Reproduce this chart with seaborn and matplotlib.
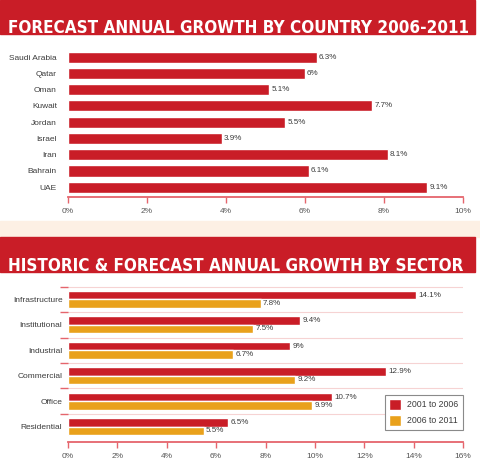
import pandas as pd
import matplotlib
matplotlib.use('Agg')
import matplotlib.pyplot as plt
import seaborn as sns
from matplotlib.patches import Rectangle
from matplotlib import font_manager as fm

# data
countries = ['Saudi Arabia', 'Qatar', 'Oman', 'Kuwait', 'Jordan', 'Israel', 'Iran', 'Bahrain', 'UAE']
country_growth = [6.3, 6, 5.1, 7.7, 5.5, 3.9, 8.1, 6.1, 9.1]

sectors = ['Infrastructure', 'Institutional', 'Industrial', 'Commercial', 'Office', 'Residential']
growth_2001_2006 = [14.1, 9.4, 9, 12.9, 10.7, 6.5]
growth_2006_2011 = [7.8, 7.5, 6.7, 9.2, 9.9, 5.5]
periods = ['2001 to 2006', '2006 to 2011']

title_top = 'FORECAST ANNUAL GROWTH BY COUNTRY 2006-2011'
title_bottom = 'HISTORIC & FORECAST ANNUAL GROWTH BY SECTOR'

RED = '#c91d27'
ORANGE = '#e9a11b'
AXIS = '#e5656c'
TEXT = '#3c3c3c'

sns.set_theme(style='white')
plt.rcParams['font.family'] = ['Liberation Sans', 'DejaVu Sans']


# look for a narrow bold face for the banner titles (DIN-like look)
def pick_title_font():
    narrow = []
    for f in fm.fontManager.ttflist:
        name = f.fname.lower()
        is_narrow = ('condensed' in name or 'narrow' in name or
                     f.stretch in ('condensed', 'semi-condensed', 'extra-condensed'))
        is_bold = (f.weight in ('bold', 700, 600, 'semibold', 'demibold')) or 'bold' in name
        if is_narrow and is_bold and 'italic' not in name and 'oblique' not in name:
            narrow.append(f)
    narrow.sort(key=lambda f: ('semibold' in f.fname.lower(), 'extra' in f.fname.lower()))
    if narrow:
        return fm.FontProperties(fname=narrow[0].fname)
    return fm.FontProperties(family=['Liberation Sans', 'DejaVu Sans'], weight='bold')


title_prop = pick_title_font()

W, H = 480, 476
fig = plt.figure(figsize=(4.8, 4.76), dpi=100)
fig.patch.set_facecolor('white')


def fy(px):
    # pixel row from the top -> figure fraction
    return (H - px) / H


# banners and the pale band between the panels
fig.patches.append(Rectangle((0, fy(34)), 475 / W, 34 / H, transform=fig.transFigure,
                             color=RED, zorder=0))
fig.patches.append(Rectangle((0, fy(237)), 1, 16 / H, transform=fig.transFigure,
                             color='#fdf0e4', zorder=0))
fig.patches.append(Rectangle((0, fy(272)), 475 / W, 35 / H, transform=fig.transFigure,
                             color=RED, zorder=0))

renderer = fig.canvas.get_renderer()


def banner_title(text, base_px, width_px):
    t = fig.text(8 / W, fy(base_px), text, color='white', fontproperties=title_prop,
                 va='baseline', ha='left')
    t.set_fontsize(16)
    w = t.get_window_extent(renderer).width
    t.set_fontsize(min(16 * width_px / w, 17.5))
    return t


banner_title(title_top, 33, 464)
banner_title(title_bottom, 271, 459)


def style_axis(ax, xmax):
    for s in ['top', 'right', 'left']:
        ax.spines[s].set_visible(False)
    ax.spines['bottom'].set_color(AXIS)
    ax.spines['bottom'].set_linewidth(1.3)
    ax.set_xlim(0, xmax)
    ax.set_xticks(range(0, xmax + 1, 2))
    ax.set_xticklabels([f'{v}%' for v in range(0, xmax + 1, 2)])
    ax.tick_params(axis='x', direction='out', length=4, width=1, color=AXIS,
                   labelsize=6, labelcolor='#555555', pad=4, bottom=True)
    ax.tick_params(axis='y', length=0, labelsize=6, labelcolor=TEXT)
    ax.set_xlabel('')
    ax.set_ylabel('')
    ax.set_facecolor('none')


# top panel: growth by country
ax1 = fig.add_axes([68 / W, fy(197), 395 / W, 148 / H])
sns.barplot(x=country_growth, y=countries, orient='h', color=RED, width=0.68,
            saturation=1, ax=ax1)
ax1.set_ylim(len(countries) - 0.4, -0.5)
style_axis(ax1, 10)
ax1.tick_params(axis='y', pad=8)
ax1.bar_label(ax1.containers[0], labels=[f'{v:g}%' for v in country_growth],
              padding=1.5, fontsize=5.8, color=TEXT)

# bottom panel: growth by sector
df = pd.DataFrame({
    'sector': sectors * 2,
    'period': [periods[0]] * len(sectors) + [periods[1]] * len(sectors),
    'growth': growth_2001_2006 + growth_2006_2011,
})
ax2 = fig.add_axes([68 / W, fy(442), 395 / W, 158 / H])
sns.barplot(data=df, x='growth', y='sector', hue='period', orient='h',
            palette=[RED, ORANGE], width=0.66, saturation=1, ax=ax2)
ax2.set_ylim(len(sectors) - 0.4, -0.6)
style_axis(ax2, 16)
ax2.tick_params(axis='y', pad=4)
ax2.set_yticks([i - 0.5 for i in range(len(sectors))], minor=True)
ax2.tick_params(axis='y', which='minor', direction='out', length=6, width=1, color=AXIS, left=True)
ax2.grid(axis='y', which='minor', color='#f6d3d3', linewidth=0.8)
for cont, vals in zip(ax2.containers, [growth_2001_2006, growth_2006_2011]):
    ax2.bar_label(cont, labels=[f'{v:g}%' for v in vals], padding=1.5, fontsize=5.8, color=TEXT)

handles, labels = ax2.get_legend_handles_labels()
ax2.legend(handles, labels, loc='lower right', bbox_to_anchor=(1.0, 0.075), borderaxespad=0,
           fontsize=6.3, frameon=True, fancybox=False, edgecolor='#8a8a8a', framealpha=1,
           handlelength=1.4, handleheight=1.5, handletextpad=0.7, borderpad=0.5,
           labelspacing=0.6, labelcolor=TEXT)
ax2.get_legend().get_frame().set_linewidth(0.8)

fig.savefig('out.png', dpi=100)
